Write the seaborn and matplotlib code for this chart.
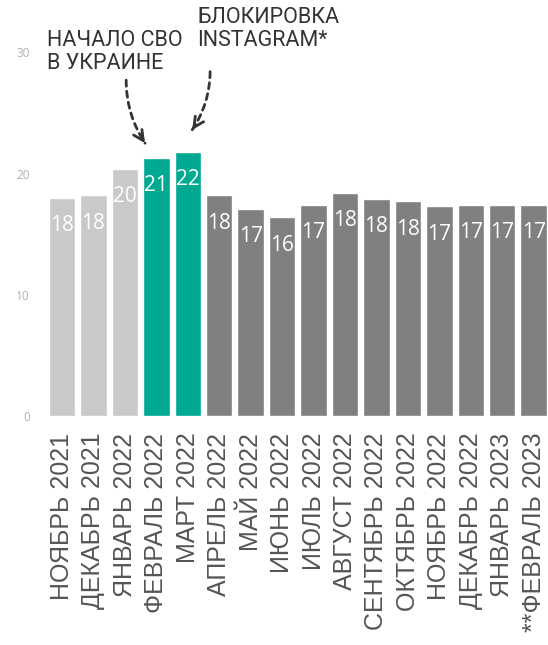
import matplotlib
matplotlib.use("Agg")
import matplotlib.pyplot as plt
import seaborn as sns
import pandas as pd

# monthly share
months = ["НОЯБРЬ 2021", "ДЕКАБРЬ 2021", "ЯНВАРЬ 2022", "ФЕВРАЛЬ 2022", "МАРТ 2022",
          "АПРЕЛЬ 2022", "МАЙ 2022", "ИЮНЬ 2022", "ИЮЛЬ 2022", "АВГУСТ 2022",
          "СЕНТЯБРЬ 2022", "ОКТЯБРЬ 2022", "НОЯБРЬ 2022", "ДЕКАБРЬ 2022",
          "ЯНВАРЬ 2023", "**ФЕВРАЛЬ 2023"]
shares = [18.0, 18.2, 20.4, 21.3, 21.8, 18.2, 17.1, 16.4, 17.4, 18.4,
          17.9, 17.7, 17.3, 17.4, 17.4, 17.4]
value_labels = ["18", "18", "20", "21", "22", "18", "17", "16", "17", "18",
                "18", "18", "17", "17", "17", "17"]
bar_colors = ["#c9c9c7"] * 3 + ["#00a991"] * 2 + ["#808080"] * 11
y_ticks = [0, 10, 20, 30]

sns.set_style("white")
plt.rcParams["font.family"] = ["Liberation Sans", "DejaVu Sans"]

df = pd.DataFrame({"month": months, "share": shares})

fig = plt.figure(figsize=(5.48, 6.45), dpi=100)
ax = fig.add_axes([0.0845, 0.355, 0.918, 0.564])

sns.barplot(data=df, x="month", y="share", hue="month", palette=bar_colors,
            legend=False, width=0.84, saturation=1, ax=ax)

ax.set_ylim(0, 30)
ax.set_xlim(-0.5, len(months) - 0.5)
ax.set_yticks(y_ticks)
ax.set_yticklabels([str(t) for t in y_ticks], color="#b0b0b0", fontsize=8.5,
                   family=["Open Sans", "DejaVu Sans"], weight="normal")
ax.tick_params(axis="y", length=0, pad=12)
ax.tick_params(axis="x", length=0, pad=12)
ax.set_xticks(range(len(months)))
ax.set_xticklabels(months, rotation=90, fontsize=18, color="#555555",
                   ha="center", va="top")
ax.set_xlabel("")
ax.set_ylabel("")
sns.despine(ax=ax, left=True, bottom=True)

# values inside the bars
for i, (v, lab) in enumerate(zip(shares, value_labels)):
    ax.annotate(lab, (i, v), xytext=(0, -12.5), textcoords="offset points",
                ha="center", va="top", color="white", fontsize=15,
                family=["Open Sans", "DejaVu Sans"], weight="normal")

# event notes with dashed arrows
note_kw = dict(fontsize=15.5, color="#333333", family=["Roboto", "DejaVu Sans"],
               va="top", ha="left", linespacing=1.1)
ax.text(-0.48, 31.8, "НАЧАЛО СВО\nВ УКРАИНЕ", **note_kw)
ax.text(4.3, 33.7, "БЛОКИРОВКА\nINSTAGRAM*", **note_kw)

arrows = [((2.04, 27.7), (2.64, 22.5), 0.15, (-2.4, 3.6)),
          ((4.71, 28.4), (4.14, 23.6), -0.15, (2.4, 3.6))]
for start, end, rad, back in arrows:
    ax.annotate("", xy=end, xytext=start, annotation_clip=False,
                arrowprops=dict(arrowstyle="-", color="#333333", lw=2,
                                linestyle=(0, (2.2, 1.8)),
                                connectionstyle=f"arc3,rad={rad}",
                                shrinkA=0, shrinkB=0))
    ax.annotate("", xy=end, xytext=back, textcoords="offset points",
                annotation_clip=False,
                arrowprops=dict(arrowstyle="->", color="#333333", lw=2,
                                mutation_scale=18, shrinkA=0, shrinkB=0))

fig.savefig("out.png", dpi=100)
